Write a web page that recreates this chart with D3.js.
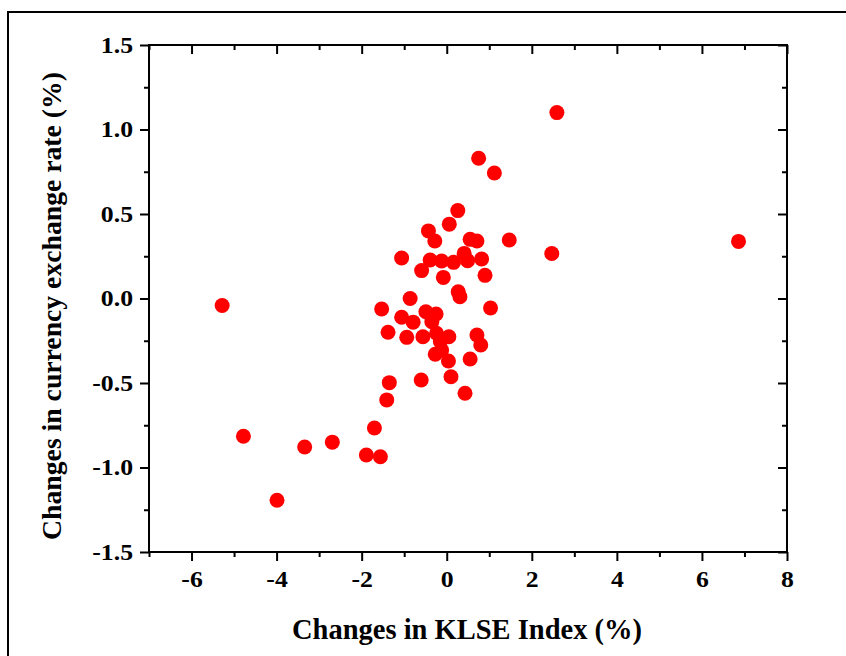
<!DOCTYPE html>
<html>
<head>
<meta charset="utf-8">
<script src="https://cdn.jsdelivr.net/npm/d3@7"></script>
<style>
  body { margin: 0; background: #fff; }
  text { font-family: "Liberation Serif", "Times New Roman", serif; font-weight: bold; }
</style>
</head>
<body>
<script>
// KLSE index change (%) vs currency exchange rate change (%)
const klse = [2.59, 0.75, 1.12, 0.26, 0.06, -0.43, -0.28, 0.55, 0.71, 1.47, 6.86, 2.47,
  -1.06, -0.39, -0.12, 0.16, 0.41, 0.49, 0.82, -0.59, -0.08, 0.90, 0.27, 0.31,
  -0.86, -5.28, -1.53, 1.03, -1.06, -0.79, -0.49, -0.25, -0.35, -1.38, -0.94, -0.56,
  -0.24, 0.05, 0.71, 0.80, -0.15, -0.12, -0.27, 0.04, 0.55, -1.35, -0.60, 0.10,
  -1.41, 0.43, -1.70, -4.78, -2.69, -3.34, -1.89, -1.56, -3.99]
const fx = [1.10, 0.83, 0.743, 0.52, 0.44, 0.40, 0.34, 0.35, 0.34, 0.346, 0.338, 0.266,
  0.24, 0.228, 0.222, 0.214, 0.267, 0.224, 0.234, 0.165, 0.125, 0.137, 0.04, 0.01,
  0.0, -0.041, -0.062, -0.056, -0.111, -0.14, -0.078, -0.092, -0.137, -0.20, -0.23, -0.226,
  -0.206, -0.226, -0.216, -0.275, -0.255, -0.305, -0.33, -0.37, -0.358, -0.498, -0.482, -0.463,
  -0.60, -0.561, -0.766, -0.815, -0.85, -0.879, -0.926, -0.936, -1.194]

const xTicks = [-6, -4, -2, 0, 2, 4, 6, 8]
const yTicks = [-1.5, -1.0, -0.5, 0.0, 0.5, 1.0, 1.5]

const data = klse.map((d, i) => ({x: d, y: fx[i]}))

const width = 846
const height = 656
const margin = {top: 45, bottom: 104, left: 149, right: 59}
const stretch = 1.12  // labels in the original are a bit wide

const svg = d3.select('body').append('svg')
  .attr('width', width)
  .attr('height', height)

// outer frame
svg.append('rect')
  .attr('x', 8)
  .attr('y', 12)
  .attr('width', 900)
  .attr('height', 700)
  .attr('fill', 'none')
  .attr('stroke', '#000')
  .attr('stroke-width', 2)

const xScale = d3.scaleLinear()
  .domain([-7, 8])
  .range([margin.left, width - margin.right])

const yScale = d3.scaleLinear()
  .domain([-1.5, 1.5])
  .range([height - margin.bottom, margin.top])

const x0 = margin.left, x1 = width - margin.right
const y0 = height - margin.bottom, y1 = margin.top

const minorX = d3.range(-7, 8.5, 1).filter(v => !xTicks.includes(v))
const minorY = d3.range(-1.25, 1.5, 0.5)

function styleAxis(g) {
  g.select('.domain').remove()
  g.selectAll('line').attr('stroke', '#000').attr('stroke-width', 2)
  g.selectAll('text').attr('font-size', 23).attr('fill', '#000')
}

// bottom
svg.append('g').attr('transform', `translate(0,${y0})`)
  .call(d3.axisBottom(xScale).tickValues(xTicks).tickSize(9).tickPadding(10).tickFormat(d => String(d)))
  .call(styleAxis)
  .selectAll('text')
  .attr('transform', `scale(${stretch},1)`)
svg.append('g').attr('transform', `translate(0,${y0})`)
  .call(d3.axisBottom(xScale).tickValues(minorX).tickSize(5).tickFormat(''))
  .call(styleAxis)
// top
svg.append('g').attr('transform', `translate(0,${y1})`)
  .call(d3.axisTop(xScale).tickValues(xTicks).tickSize(-9).tickFormat(''))
  .call(styleAxis)
svg.append('g').attr('transform', `translate(0,${y1})`)
  .call(d3.axisTop(xScale).tickValues(minorX).tickSize(-5).tickFormat(''))
  .call(styleAxis)
// left
svg.append('g').attr('transform', `translate(${x0},0)`)
  .call(d3.axisLeft(yScale).tickValues(yTicks).tickSize(9).tickFormat(d => d.toFixed(1)))
  .call(styleAxis)
  .selectAll('text')
  .attr('x', -16 / stretch)
  .attr('transform', `scale(${stretch},1)`)
svg.append('g').attr('transform', `translate(${x0},0)`)
  .call(d3.axisLeft(yScale).tickValues(minorY).tickSize(5).tickFormat(''))
  .call(styleAxis)
// right
svg.append('g').attr('transform', `translate(${x1},0)`)
  .call(d3.axisRight(yScale).tickValues(yTicks).tickSize(-9).tickFormat(''))
  .call(styleAxis)
svg.append('g').attr('transform', `translate(${x1},0)`)
  .call(d3.axisRight(yScale).tickValues(minorY).tickSize(-5).tickFormat(''))
  .call(styleAxis)

// plot frame
svg.append('rect')
  .attr('x', x0)
  .attr('y', y1)
  .attr('width', x1 - x0)
  .attr('height', y0 - y1)
  .attr('fill', 'none')
  .attr('stroke', '#000')
  .attr('stroke-width', 2)

svg.append('g').selectAll('circle')
  .data(data)
  .enter()
  .append('circle')
  .attr('cx', d => xScale(d.x))
  .attr('cy', d => yScale(d.y))
  .attr('r', 7.5)
  .attr('fill', '#ff0000')

svg.append('text')
  .attr('x', 467)
  .attr('y', 639)
  .attr('text-anchor', 'middle')
  .attr('font-size', 28.5)
  .text('Changes in KLSE Index (%)')

svg.append('text')
  .attr('transform', `translate(61,306) rotate(-90)`)
  .attr('text-anchor', 'middle')
  .attr('font-size', 27.7)
  .text('Changes in currency exchange rate (%)')
</script>
</body>
</html>
